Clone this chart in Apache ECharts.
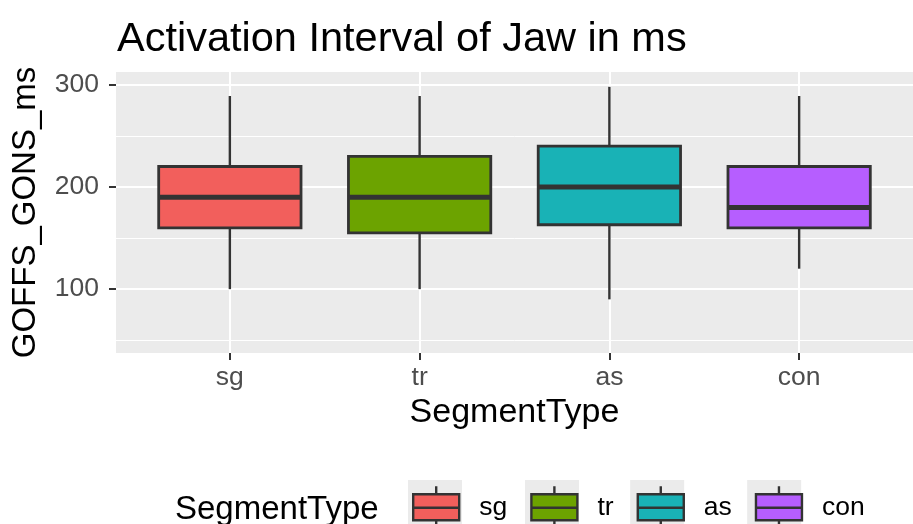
<!DOCTYPE html>
<html>
<head>
<meta charset="utf-8">
<script src="https://cdn.jsdelivr.net/npm/echarts@6/dist/echarts.min.js"></script>
<style>html,body{margin:0;padding:0;background:#fff;}#c{width:913px;height:524px;}</style>
</head>
<body>
<div id="c"></div>
<script>
const categories = ['sg', 'tr', 'as', 'con'];
const whiskerLow = [100, 100, 90, 120];
const q1 = [160, 155, 163, 160];
const median = [190, 190, 200, 180];
const q3 = [220, 230, 240, 220];
const whiskerHigh = [289, 289, 298, 289];
const colors = ['#F25F5C', '#6CA300', '#19B2B6', '#B65EFF'];
const yMajorTicks = [100, 200, 300];
const yMinorTicks = [50, 150, 250];
const xTicks = [0, 1, 2, 3];

const FONT = '"Liberation Sans", Arial, Helvetica, sans-serif';
const boxWidth = 0.75;

function renderBox(params, api) {
  const x = api.value(0);
  const pLo = api.coord([x, api.value(1)]);
  const pQ1 = api.coord([x, api.value(2)]);
  const pMed = api.coord([x, api.value(3)]);
  const pQ3 = api.coord([x, api.value(4)]);
  const pHi = api.coord([x, api.value(5)]);
  const half = api.size([boxWidth, 0])[0] / 2;
  const dark = '#333333';
  return {
    type: 'group',
    children: [
      { type: 'line', shape: { x1: pHi[0], y1: pHi[1], x2: pQ3[0], y2: pQ3[1] }, style: { stroke: dark, lineWidth: 2.4 } },
      { type: 'line', shape: { x1: pQ1[0], y1: pQ1[1], x2: pLo[0], y2: pLo[1] }, style: { stroke: dark, lineWidth: 2.4 } },
      { type: 'rect', shape: { x: pQ3[0] - half, y: pQ3[1], width: half * 2, height: pQ1[1] - pQ3[1] },
        style: { fill: api.visual('color'), stroke: dark, lineWidth: 2.8 } },
      { type: 'line', shape: { x1: pMed[0] - half, y1: pMed[1], x2: pMed[0] + half, y2: pMed[1] }, style: { stroke: dark, lineWidth: 5 } }
    ]
  };
}

const series = categories.map((name, i) => ({
  name: name,
  type: 'custom',
  renderItem: renderBox,
  color: colors[i],
  encode: { x: 0, y: [1, 2, 3, 4, 5] },
  data: [[i, whiskerLow[i], q1[i], median[i], q3[i], whiskerHigh[i]]],
  silent: true
}));

const legendIcon = 'path://M0 0M54 52M4 13L50 13L50 39L4 39Z M4 26.5L50 26.5 M27 5L27 13 M27 39L27 47';
const legendCommon = {
  orient: 'horizontal',
  left: 408,
  top: 480,
  padding: 0,
  itemWidth: 54,
  itemHeight: 52,
  itemGap: 19,
  selectedMode: false,
  data: categories
};

const chart = echarts.init(document.getElementById('c'), null, { renderer: 'canvas' });
chart.setOption({
  animation: false,
  backgroundColor: '#ffffff',
  title: [
    { text: 'Activation Interval of Jaw in ms', left: 117, top: 19, padding: 0,
      textStyle: { fontFamily: FONT, fontSize: 41.5, fontWeight: 'normal', color: '#000000' } },
    { text: 'SegmentType', left: 175, top: 493, padding: 0,
      textStyle: { fontFamily: FONT, fontSize: 33, fontWeight: 'normal', color: '#000000' } }
  ],
  legend: [
    Object.assign({}, legendCommon, {
      z: 3, icon: 'rect',
      itemStyle: { color: '#EBEBEB', borderWidth: 0 },
      textStyle: { fontFamily: FONT, fontSize: 26.5, color: 'rgba(0,0,0,0)', padding: [0, 0, 0, 11] }
    }),
    Object.assign({}, legendCommon, {
      z: 4, icon: legendIcon,
      itemStyle: { borderColor: '#333333', borderWidth: 2.4 },
      textStyle: { fontFamily: FONT, fontSize: 26.5, color: '#000000', padding: [0, 0, 0, 11] }
    })
  ],
  grid: {
    left: 116, right: -12, top: 72, bottom: 171,
    show: true, backgroundColor: '#EBEBEB', borderWidth: 0, containLabel: false
  },
  xAxis: {
    type: 'value', min: -0.6, max: 3.6,
    name: 'SegmentType', nameLocation: 'middle', nameGap: 43,
    nameTextStyle: { fontFamily: FONT, fontSize: 34, color: '#000000' },
    axisLine: { show: false, onZero: false },
    axisTick: { show: true, length: 7, customValues: xTicks, lineStyle: { color: '#333333', width: 2 } },
    axisLabel: { customValues: xTicks, formatter: v => categories[Math.round(v)], margin: 11,
      fontFamily: FONT, fontSize: 26.5, color: '#4D4D4D' },
    splitLine: { show: true, lineStyle: { color: '#FFFFFF', width: 2 } }
  },
  yAxis: [
    {
      type: 'value', min: 37.5, max: 312.5, position: 'left',
      name: 'GOFFS_GONS_ms', nameLocation: 'middle', nameGap: 74,
      nameTextStyle: { fontFamily: FONT, fontSize: 33, color: '#000000' },
      axisLine: { show: false, onZero: false },
      axisTick: { show: true, length: 7, customValues: yMajorTicks, lineStyle: { color: '#333333', width: 2 } },
      axisLabel: { customValues: yMajorTicks, margin: 17, fontFamily: FONT, fontSize: 26.5, color: '#4D4D4D' },
      splitLine: { show: true, lineStyle: { color: '#FFFFFF', width: 2 } }
    },
    {
      type: 'value', min: 37.5, max: 312.5, position: 'left',
      axisLine: { show: false, onZero: false },
      axisTick: { show: false, customValues: yMinorTicks },
      axisLabel: { show: false, customValues: yMinorTicks },
      splitLine: { show: true, lineStyle: { color: '#FFFFFF', width: 1 } }
    }
  ],
  series: series
});
</script>
</body>
</html>
